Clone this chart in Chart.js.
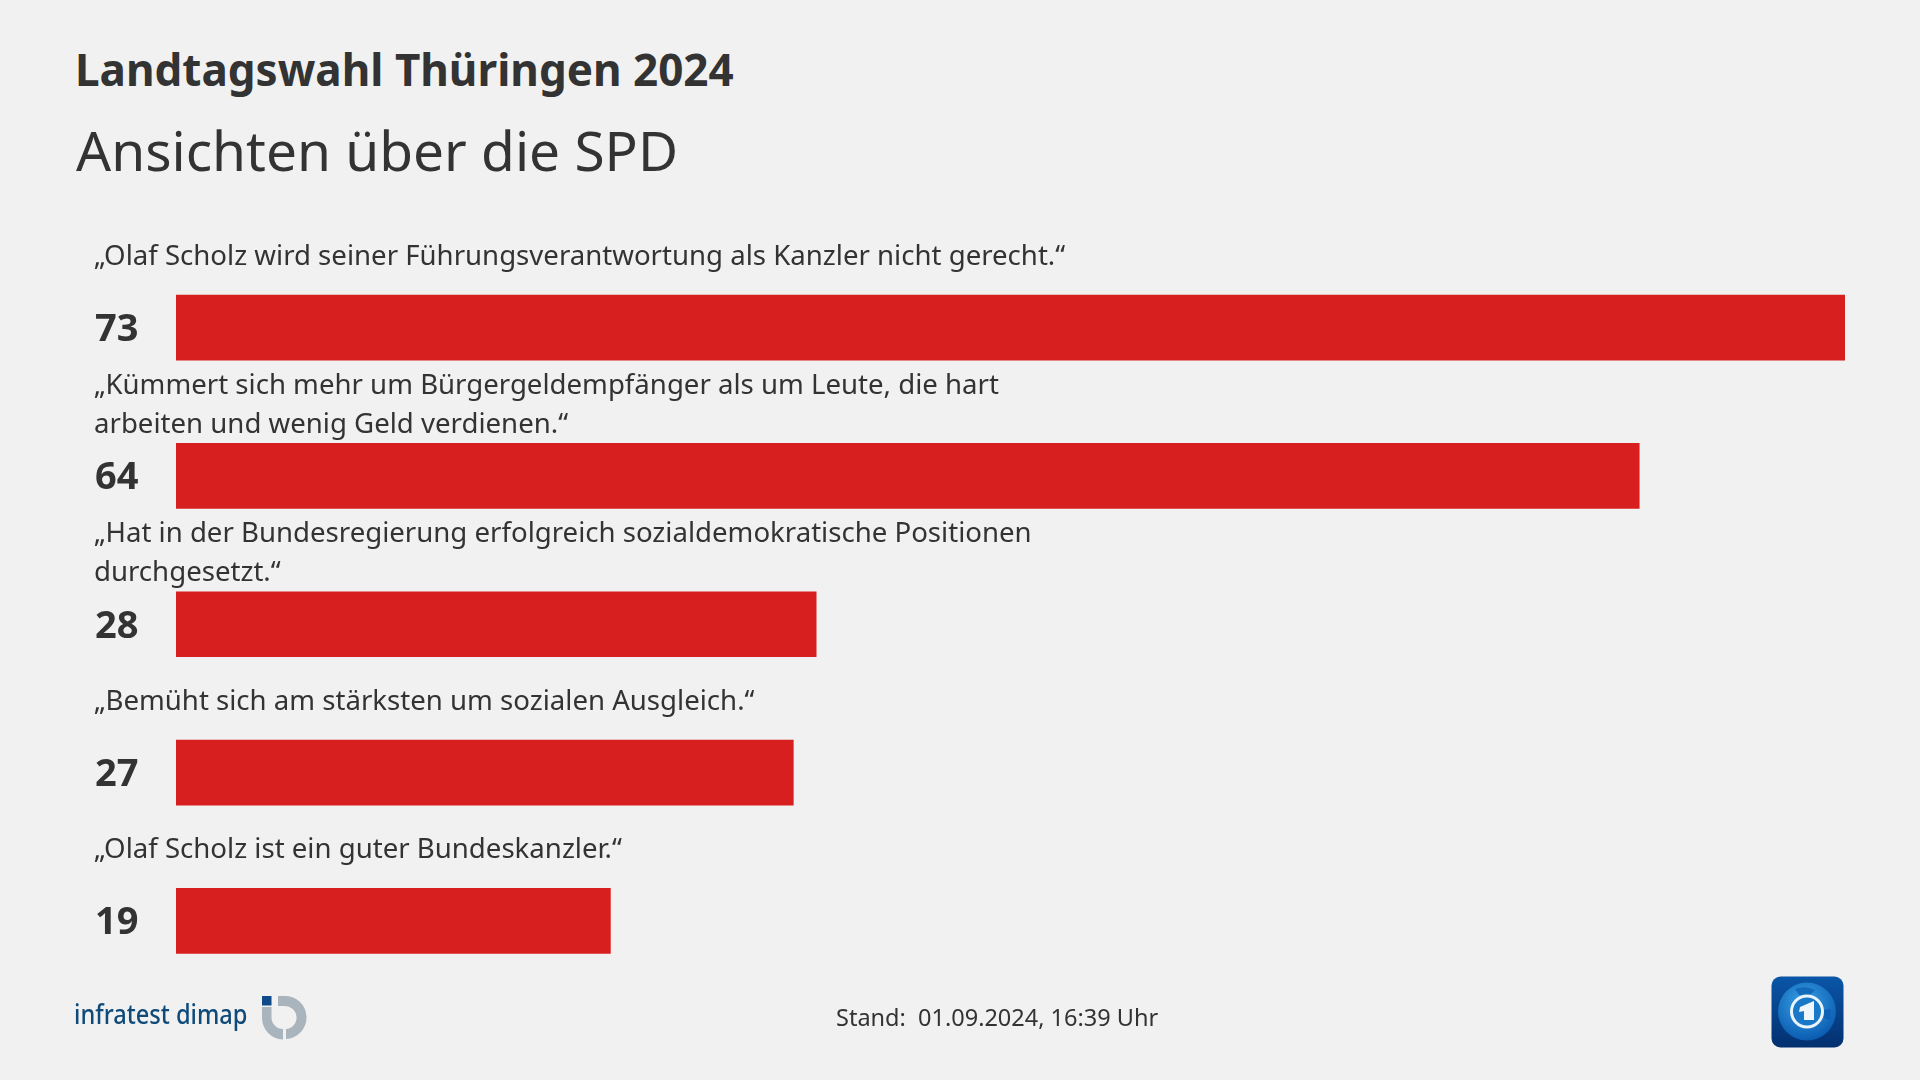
<!DOCTYPE html>
<html lang="de"><head><meta charset="utf-8"><title>Ansichten über die SPD</title>
<script src="https://cdn.jsdelivr.net/npm/chart.js@4"></script>
<style>
html,body{margin:0;padding:0;width:1920px;height:1080px;background:#f1f1f1;overflow:hidden;font-family:"Noto Sans",sans-serif;color:#333}
#c{position:absolute;left:0;top:0}
.t{position:absolute;white-space:nowrap}
#h1{left:75px;top:39px;font-size:44px;font-weight:700;line-height:60px;color:#333}
#h2{left:76px;top:113px;font-size:55px;line-height:74px;color:#333}
#st{left:836px;top:1003px;font-size:23.5px;line-height:28px;color:#333}
#it{left:74px;top:994px;font-size:27px;font-weight:500;line-height:40px;color:#0f4a78;transform:scaleX(.875);transform-origin:0 50%}
svg{position:absolute}
</style></head><body>
<div class="t" id="h1">Landtagswahl Thüringen 2024</div>
<div class="t" id="h2">Ansichten über die SPD</div>
<canvas id="c" width="1920" height="1080"></canvas>
<div class="t" id="it">infratest dimap</div>
<svg style="left:260px;top:994px" width="48" height="48" viewBox="0 0 48 48">
<path d="M18 2H24A21.500 21.500 0 0 1 26 45V35A11.500 11.500 0 0 0 24 12H18Z" fill="#a9b4bd"/>
<path d="M2 13H11.500V24A11.500 11.500 0 0 0 23 35V45.500A21.500 21.500 0 0 1 2 24Z" fill="#a9b4bd"/>
<rect x="2" y="2" width="9.500" height="9.500" fill="#0f4a8a"/></svg>
<div class="t" id="st">Stand:&nbsp; 01.09.2024, 16:39 Uhr</div>
<svg style="left:1771px;top:976px" width="73" height="73" viewBox="0 0 73 73">
<defs><linearGradient id="g" x1="0" y1="0" x2="0" y2="1"><stop offset="0" stop-color="#0a56a8"/><stop offset="1" stop-color="#03306f"/></linearGradient>
<radialGradient id="b" cx=".45" cy=".35" r=".7"><stop offset="0" stop-color="#3aa3e6"/><stop offset="1" stop-color="#0756ad"/></radialGradient></defs>
<rect x=".5" y=".5" width="72" height="71" rx="9" fill="url(#g)"/><circle cx="36" cy="35.500" r="29" fill="url(#b)"/>
<path d="M24 13Q34 9 44 14L38 20L28 19Z M52 34L60 33L59 44L53 42Z" fill="#0a5cb0" opacity=".7"/>
<circle cx="36" cy="35.500" r="15.500" fill="#1a78c8" stroke="#eaf4fb" stroke-width="3"/>
<path d="M29 31L43 25V44H33V35L28 36Z" fill="#eef6fc"/></svg>
<script>
const categories=[["„Olaf Scholz wird seiner Führungsverantwortung als Kanzler nicht gerecht.“"],
["„Kümmert sich mehr um Bürgergeldempfänger als um Leute, die hart","arbeiten und wenig Geld verdienen.“"],
["„Hat in der Bundesregierung erfolgreich sozialdemokratische Positionen","durchgesetzt.“"],
["„Bemüht sich am stärksten um sozialen Ausgleich.“"],
["„Olaf Scholz ist ein guter Bundeskanzler.“"]];
const values=[73,64,28,27,19];
const textPlugin={id:"texts",afterDraw(ch){
 const c=ch.ctx,y=ch.scales.y;c.save();c.textAlign="left";c.textBaseline="middle";c.fillStyle="#333";
 values.forEach((v,i)=>{const p=y.getPixelForValue(i);
  c.font='700 38px "Noto Sans"';c.fillText(String(v),95,p+2.5);
  c.font='27.600px "Noto Sans"';const L=categories[i];
  L.forEach((s,j)=>c.fillText(s,94,L.length===1?p-70.5:p-90+39*j));
 });c.restore();}};
new Chart(document.getElementById("c"),{type:"bar",data:{labels:categories.map(l=>l.join(" ")),datasets:[{data:values,backgroundColor:"#d71f1f",barThickness:65,borderWidth:0}]},
 options:{indexAxis:"y",responsive:false,animation:false,events:[],
  layout:{padding:{left:176,right:75,top:253.5,bottom:85}},
  plugins:{legend:{display:false},tooltip:{enabled:false}},
  scales:{x:{display:false,min:0,max:73},y:{display:false}}},plugins:[textPlugin]});
</script></body></html>
